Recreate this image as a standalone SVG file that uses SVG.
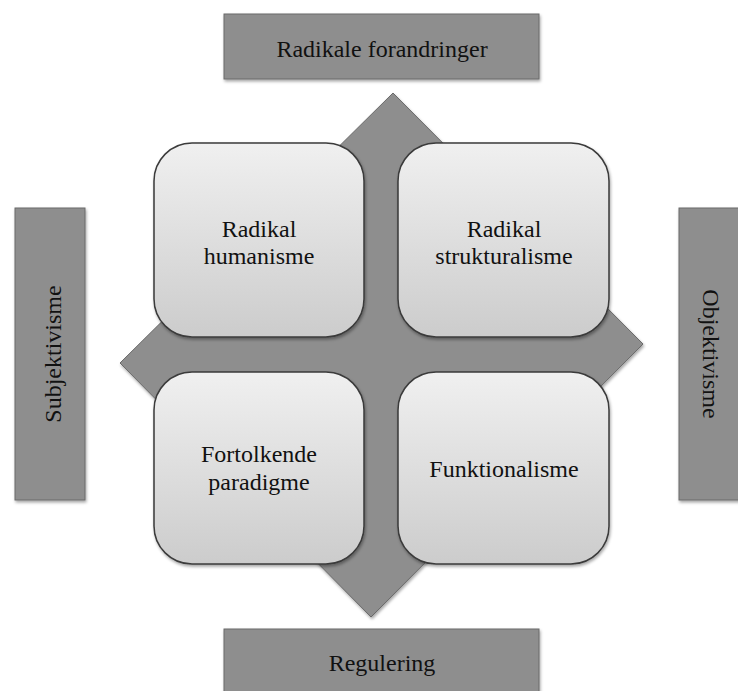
<svg xmlns="http://www.w3.org/2000/svg" width="738" height="691" viewBox="0 0 738 691" font-family="'Liberation Serif', 'DejaVu Serif', 'Times New Roman', serif">
<style>
.lbl{font-family:'Liberation Serif','DejaVu Serif',serif;font-size:24px;fill:#111;text-anchor:middle}
.axis{fill:#8e8e8e;stroke:#6a6a6a;stroke-width:1}
.quad{fill:url(#qg);stroke:#3a3a3a;stroke-width:1.5}
</style>
<defs>
<linearGradient id="qg" x1="0" y1="0" x2="0" y2="1">
<stop offset="0" stop-color="#f0f0f0"/>
<stop offset="1" stop-color="#cccccc"/>
</linearGradient>
<filter id="sh" x="-10%" y="-10%" width="120%" height="120%">
<feDropShadow dx="1" dy="2" stdDeviation="1.5" flood-color="#000" flood-opacity="0.35"/>
</filter>
</defs>
<rect width="738" height="691" fill="#ffffff"/>
<g id="connectors">
<polygon class="axis" filter="url(#sh)" points="393,93 643,344 371,617 120,363"/>
</g>
<g id="radikale-forandringer">
<rect class="axis" filter="url(#sh)" x="224" y="14" width="315" height="65"/>
<text class="lbl" x="382" y="57">Radikale forandringer</text>
</g>
<g id="regulering">
<rect class="axis" filter="url(#sh)" x="224" y="629" width="315" height="70"/>
<text class="lbl" x="382" y="671">Regulering</text>
</g>
<g id="subjektivisme">
<rect class="axis" filter="url(#sh)" x="15" y="208" width="70" height="292"/>
<text class="lbl" transform="translate(61,354) rotate(-90)">Subjektivisme</text>
</g>
<g id="objektivisme">
<rect class="axis" filter="url(#sh)" x="679" y="208" width="75" height="292"/>
<text class="lbl" transform="translate(703,354) rotate(90)">Objektivisme</text>
</g>
<g id="radikal-humanisme">
<rect class="quad" filter="url(#sh)" x="154" y="143" width="210" height="194" rx="38" ry="38"/>
<text class="lbl" x="259" y="237">Radikal</text>
<text class="lbl" x="259" y="264">humanisme</text>
</g>
<g id="radikal-strukturalisme">
<rect class="quad" filter="url(#sh)" x="398" y="143" width="211" height="194" rx="38" ry="38"/>
<text class="lbl" x="504" y="237">Radikal</text>
<text class="lbl" x="504" y="264">strukturalisme</text>
</g>
<g id="fortolkende-paradigme">
<rect class="quad" filter="url(#sh)" x="154" y="372" width="210" height="192" rx="38" ry="38"/>
<text class="lbl" x="259" y="462">Fortolkende</text>
<text class="lbl" x="259" y="490">paradigme</text>
</g>
<g id="funktionalisme">
<rect class="quad" filter="url(#sh)" x="398" y="372" width="211" height="192" rx="38" ry="38"/>
<text class="lbl" x="504" y="477">Funktionalisme</text>
</g>
</svg>
